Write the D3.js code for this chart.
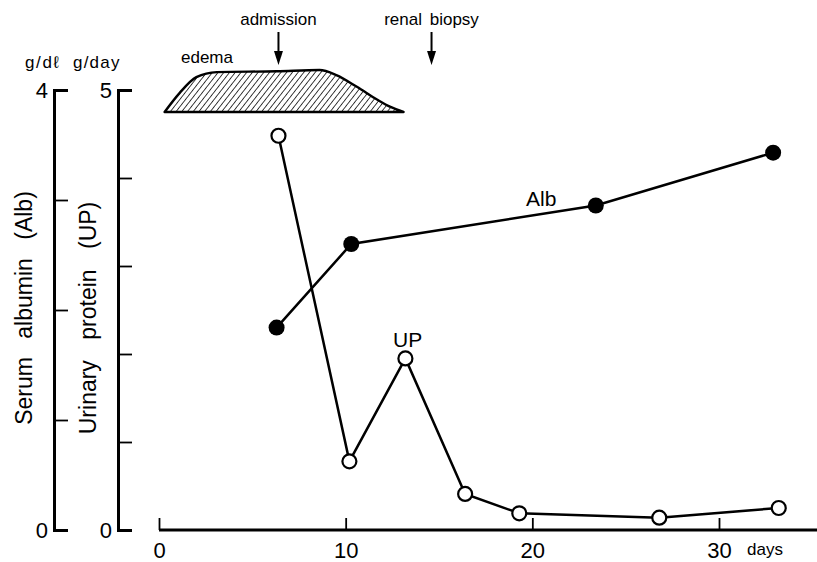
<!DOCTYPE html>
<html>
<head>
<meta charset="utf-8">
<script src="https://cdn.jsdelivr.net/npm/d3@7"></script>
<style>
  body { margin: 0; background: #fff; }
  svg { display: block; font-family: "Liberation Sans", Arial, sans-serif; }
</style>
</head>
<body>
<svg id="chart"></svg>
<script>
// data
var upDays = [6.4, 10.2, 13.2, 16.4, 19.3, 26.8, 33.2];
var upValues = [4.48, 0.78, 1.95, 0.41, 0.19, 0.14, 0.25];
var albDays = [6.3, 10.3, 23.4, 32.9];
var albValues = [1.84, 2.60, 2.95, 3.43];
var edemaDays = [0.3, 1.1, 2.0, 3.1, 6.3, 8.6, 9.5, 10.6, 11.7, 12.4, 13.1];
var edemaLevels = [0, 0.45, 0.83, 0.95, 0.97, 1.0, 0.88, 0.6, 0.29, 0.12, 0];
var eventNames = ["admission", "renal biopsy"];
var eventDays = [6.4, 14.6];
var xTicks = [0, 10, 20, 30];
var albTicks = [0, 1, 2, 3, 4];
var upTicks = [0, 1, 2, 3, 4, 5];

var width = 817, height = 562;
var svg = d3.select("#chart").attr("width", width).attr("height", height);

// scales
var x = d3.scaleLinear().domain([0, 30]).range([159, 719]);
var yAlb = d3.scaleLinear().domain([0, 4]).range([530, 90]);
var yUp = d3.scaleLinear().domain([0, 5]).range([530, 90]);
var yEdema = d3.scaleLinear().domain([0, 1]).range([112, 70]);

// hatch pattern for edema
var defs = svg.append("defs");
defs.append("pattern")
    .attr("id", "hatch")
    .attr("patternUnits", "userSpaceOnUse")
    .attr("width", 4.5)
    .attr("height", 4.5)
    .attr("patternTransform", "rotate(38)")
  .append("line")
    .attr("x1", 0).attr("y1", 0)
    .attr("x2", 0).attr("y2", 4.5)
    .attr("stroke", "#000")
    .attr("stroke-width", 1.5);

// albumin axis
var albAxis = svg.append("g")
    .attr("transform", "translate(54,0)")
    .call(d3.axisRight(yAlb).tickValues(albTicks).tickSizeInner(14).tickSizeOuter(14).tickFormat(""));
albAxis.select(".domain").attr("stroke-width", 3);
albAxis.selectAll(".tick line").attr("stroke-width", 1.8);

// urinary protein axis
var upAxis = svg.append("g")
    .attr("transform", "translate(118,0)")
    .call(d3.axisRight(yUp).tickValues(upTicks).tickSizeInner(14).tickSizeOuter(14).tickFormat(""));
upAxis.select(".domain").attr("stroke-width", 3);
upAxis.selectAll(".tick line").attr("stroke-width", 1.8);

// end labels of y axes
svg.selectAll(".albLab")
    .data([albTicks[0], albTicks[albTicks.length - 1]])
    .enter().append("text")
    .attr("x", 48)
    .attr("y", function(d) { return yAlb(d); })
    .attr("dy", "0.38em")
    .attr("text-anchor", "end")
    .attr("font-size", 22)
    .text(function(d) { return d; });
svg.selectAll(".upLab")
    .data([upTicks[0], upTicks[upTicks.length - 1]])
    .enter().append("text")
    .attr("x", 112)
    .attr("y", function(d) { return yUp(d); })
    .attr("dy", "0.38em")
    .attr("text-anchor", "end")
    .attr("font-size", 22)
    .text(function(d) { return d; });

// units
svg.append("text").attr("x", 25).attr("y", 68).attr("font-size", 17).attr("letter-spacing", 1.6).text("g/d\u2113");
svg.append("text").attr("x", 73).attr("y", 68).attr("font-size", 17).attr("letter-spacing", 1.2).text("g/day");

// axis titles
svg.append("text")
    .attr("transform", "translate(32,308) rotate(-90)")
    .attr("text-anchor", "middle")
    .attr("font-size", 23)
    .attr("word-spacing", 12)
    .text("Serum albumin (Alb)");
svg.append("text")
    .attr("transform", "translate(96,318) rotate(-90)")
    .attr("text-anchor", "middle")
    .attr("font-size", 23)
    .attr("word-spacing", 14)
    .text("Urinary protein (UP)");

// x axis
var xAxis = svg.append("g")
    .attr("transform", "translate(0,530)")
    .call(d3.axisBottom(x).tickValues(xTicks).tickSizeInner(-12).tickSizeOuter(0).tickPadding(12));
xAxis.select(".domain").remove();
xAxis.selectAll(".tick line").attr("stroke-width", 1.8);
xAxis.selectAll(".tick text").attr("font-size", 22).attr("font-family", "Liberation Sans, Arial, sans-serif");
xAxis.append("line")
    .attr("x1", x(0)).attr("x2", width)
    .attr("y1", 0).attr("y2", 0)
    .attr("stroke", "#000")
    .attr("stroke-width", 3);
svg.append("text").attr("x", 747).attr("y", 555).attr("font-size", 17).text("days");

// edema area
var edemaData = edemaDays.map(function(d, i) { return { day: d, level: edemaLevels[i] }; });
svg.append("path")
    .datum(edemaData)
    .attr("fill", "url(#hatch)")
    .attr("stroke", "#000")
    .attr("stroke-width", 2.4)
    .attr("stroke-linejoin", "round")
    .attr("d", d3.area()
        .curve(d3.curveMonotoneX)
        .x(function(d) { return x(d.day); })
        .y0(yEdema(0))
        .y1(function(d) { return yEdema(d.level); }));
svg.append("text").attr("x", 181).attr("y", 63).attr("font-size", 17).text("edema");

// event arrows
eventNames.forEach(function(name, i) {
    var ex = x(eventDays[i]);
    svg.append("text")
        .attr("x", ex)
        .attr("y", 25)
        .attr("text-anchor", "middle")
        .attr("font-size", 17)
        .attr("word-spacing", 3)
        .text(name);
    svg.append("line")
        .attr("x1", ex).attr("x2", ex)
        .attr("y1", 32).attr("y2", 54)
        .attr("stroke", "#000")
        .attr("stroke-width", 2);
    svg.append("path")
        .attr("d", "M" + (ex - 4.5) + ",51L" + (ex + 4.5) + ",51L" + ex + ",65Z")
        .attr("fill", "#000");
});

// lines
var upData = upDays.map(function(d, i) { return { day: d, v: upValues[i] }; });
var albData = albDays.map(function(d, i) { return { day: d, v: albValues[i] }; });

svg.append("path")
    .datum(albData)
    .attr("fill", "none")
    .attr("stroke", "#000")
    .attr("stroke-width", 2.5)
    .attr("d", d3.line().x(function(d) { return x(d.day); }).y(function(d) { return yAlb(d.v); }));

svg.append("path")
    .datum(upData)
    .attr("fill", "none")
    .attr("stroke", "#000")
    .attr("stroke-width", 2.5)
    .attr("d", d3.line().x(function(d) { return x(d.day); }).y(function(d) { return yUp(d.v); }));

// points
svg.selectAll(".albPt")
    .data(albData)
    .enter().append("circle")
    .attr("cx", function(d) { return x(d.day); })
    .attr("cy", function(d) { return yAlb(d.v); })
    .attr("r", 8)
    .attr("fill", "#000");

svg.selectAll(".upPt")
    .data(upData)
    .enter().append("circle")
    .attr("cx", function(d) { return x(d.day); })
    .attr("cy", function(d) { return yUp(d.v); })
    .attr("r", 7)
    .attr("fill", "#fff")
    .attr("stroke", "#000")
    .attr("stroke-width", 2.2);

// series labels
svg.append("text").attr("x", 526).attr("y", 206).attr("font-size", 21).text("Alb");
svg.append("text").attr("x", 393).attr("y", 347).attr("font-size", 21).text("UP");
</script>
</body>
</html>
